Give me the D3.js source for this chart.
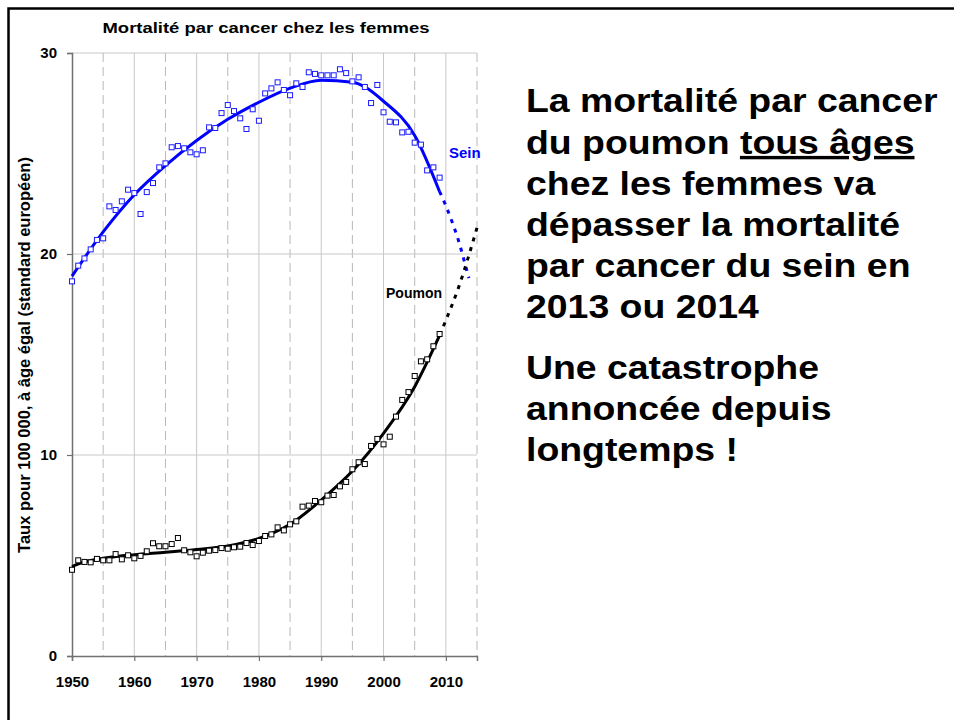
<!DOCTYPE html>
<html>
<head>
<meta charset="utf-8">
<script src="https://cdn.jsdelivr.net/npm/d3@7"></script>
<style>
  body { margin: 0; background: #fff; }
  svg { display: block; font-family: "Liberation Sans", Arial, sans-serif; }
</style>
</head>
<body>
<svg id="chart" width="954" height="720"></svg>
<script>
// données
const years = d3.range(1950, 2010);
const seinValues = [18.64, 19.42, 19.78, 20.23, 20.7, 20.78, 22.37, 22.19, 22.62, 23.2,
    23.03, 21.99, 23.08, 23.53, 24.31, 24.51, 25.31, 25.37, 25.26, 25.06,
    24.96, 25.16, 26.3, 26.27, 27.01, 27.41, 27.11, 26.75, 26.22, 27.2,
    26.63, 27.99, 28.24, 28.54, 28.16, 27.9, 28.49, 28.31, 29.04, 28.96,
    28.89, 28.89, 28.89, 29.19, 29.0, 28.59, 28.79, 28.31, 27.51, 28.41,
    27.05, 26.58, 26.55, 26.05, 26.08, 25.54, 25.44, 24.16, 24.31, 23.8];
const poumonValues = [4.29, 4.76, 4.68, 4.66, 4.83, 4.76, 4.76, 5.07, 4.81, 5.01,
    4.86, 4.98, 5.21, 5.61, 5.46, 5.46, 5.57, 5.87, 5.26, 5.16,
    4.96, 5.14, 5.24, 5.27, 5.37, 5.34, 5.41, 5.44, 5.62, 5.52,
    5.72, 5.97, 6.05, 6.40, 6.25, 6.55, 6.70, 7.43, 7.48, 7.71,
    7.65, 7.98, 8.01, 8.44, 8.66, 9.29, 9.64, 9.55, 10.45, 10.8,
    10.53, 10.91, 11.91, 12.74, 13.13, 13.93, 14.66, 14.76, 15.41, 16.02];

// courbes de tendance
const seinTrendYears = [1950, 1955, 1960, 1965, 1970, 1975, 1980, 1985, 1990, 1995, 2000, 2005, 2009];
const seinTrend = [18.9, 21.1, 22.95, 24.4, 25.65, 26.7, 27.55, 28.25, 28.65, 28.55, 27.6, 25.9, 23.1];
const seinProjYears = [2009, 2010, 2011, 2012, 2013, 2013.7];
const seinProj = [23.1, 22.4, 21.6, 20.7, 19.6, 18.8];

const poumonTrendYears = [1950, 1952, 1955, 1960, 1965, 1970, 1975, 1980, 1985, 1990, 1995, 2000, 2005, 2009];
const poumonTrend = [4.45, 4.68, 4.86, 5.04, 5.16, 5.3, 5.47, 5.85, 6.55, 7.76, 9.2, 11.08, 13.4, 15.95];
const poumonProjYears = [2009, 2010, 2012, 2015];
const poumonProj = [15.95, 16.7, 18.3, 21.3];

const xTicks = [1950, 1960, 1970, 1980, 1990, 2000, 2010];
const xMinor = [1955, 1965, 1975, 1985, 1995, 2005, 2015];
const yTicks = [0, 10, 20, 30];

const textLines = [
    {t: "La mortalité par cancer", y: 112},
    {t: "du poumon ", u: "tous âges", y: 154},
    {t: "chez les femmes va", y: 195},
    {t: "dépasser la mortalité", y: 236},
    {t: "par cancer du sein en", y: 277},
    {t: "2013 ou 2014", y: 318},
    {t: "Une catastrophe", y: 379},
    {t: "annoncée depuis", y: 420},
    {t: "longtemps !", y: 461}
];

const svg = d3.select("#chart");
const area = {left: 72, right: 477, top: 53, bottom: 656};

const scaleX = d3.scaleLinear().domain([1950, 2015]).range([area.left, area.right]);
const scaleY = d3.scaleLinear().domain([0, 30]).range([area.bottom, area.top]);

// cadre
svg.append("rect")
    .attr("x", 8.5).attr("y", 8.5)
    .attr("width", 1000).attr("height", 1000)
    .attr("fill", "none").attr("stroke", "#000").attr("stroke-width", 2.5);

// grille
svg.append("g").selectAll("line")
    .data(xMinor)
    .join("line")
    .attr("x1", d => scaleX(d)).attr("x2", d => scaleX(d))
    .attr("y1", area.top).attr("y2", area.bottom)
    .attr("stroke", "#b8b8b8").attr("stroke-width", 1)
    .attr("stroke-dasharray", "9,5");

svg.append("g").selectAll("line")
    .data(xTicks.slice(1))
    .join("line")
    .attr("x1", d => scaleX(d)).attr("x2", d => scaleX(d))
    .attr("y1", area.top).attr("y2", area.bottom)
    .attr("stroke", "#c8c8c8").attr("stroke-width", 1);

svg.append("g").selectAll("line")
    .data(yTicks.slice(1))
    .join("line")
    .attr("x1", area.left).attr("x2", area.right)
    .attr("y1", d => scaleY(d)).attr("y2", d => scaleY(d))
    .attr("stroke", "#c8c8c8").attr("stroke-width", 1);

// axes
const axisX = d3.axisBottom(scaleX).tickValues(xTicks).tickFormat(d3.format("d")).tickSize(5).tickPadding(15);
const axisY = d3.axisLeft(scaleY).tickValues(yTicks).tickSize(5).tickPadding(10);

const gx = svg.append("g").attr("transform", `translate(0, ${area.bottom})`).call(axisX);
const gy = svg.append("g").attr("transform", `translate(${area.left}, 0)`).call(axisY);
[gx, gy].forEach(g => {
    g.select(".domain").attr("stroke", "#707070").attr("stroke-width", 1.5);
    g.selectAll(".tick line").attr("stroke", "#707070").attr("stroke-width", 1.2);
    g.selectAll("text")
        .attr("fill", "#000")
        .style("font-size", "15px")
        .style("font-weight", "bold")
        .style("font-family", "'Liberation Sans', Arial, sans-serif");
});

// titre et libellés
svg.append("text")
    .attr("x", 266).attr("y", 33)
    .attr("text-anchor", "middle")
    .attr("textLength", 327).attr("lengthAdjust", "spacingAndGlyphs")
    .style("font-size", "15px").style("font-weight", "bold")
    .text("Mortalité par cancer chez les femmes");

svg.append("text")
    .attr("transform", "translate(30, 355) rotate(-90)")
    .attr("text-anchor", "middle")
    .style("font-size", "16.5px").style("font-weight", "bold")
    .text("Taux pour 100 000, à âge égal (standard européen)");

// tendances
function drawTrend(xs, ys, color, dashed) {
    const pts = xs.map((x, i) => [x, ys[i]]);
    const line = d3.line()
        .x(d => scaleX(d[0]))
        .y(d => scaleY(d[1]))
        .curve(d3.curveMonotoneX);
    svg.append("path")
        .datum(pts)
        .attr("fill", "none")
        .attr("stroke", color)
        .attr("stroke-width", 3)
        .attr("stroke-dasharray", dashed ? "4,6" : null)
        .attr("d", line);
}

drawTrend(seinTrendYears, seinTrend, "#0000ff", false);
drawTrend(seinProjYears, seinProj, "#0000ff", true);
drawTrend(poumonTrendYears, poumonTrend, "#000", false);
drawTrend(poumonProjYears, poumonProj, "#000", true);

// points
function drawSquares(values, color) {
    const s = 5;
    svg.append("g").selectAll("rect")
        .data(years.map((y, i) => [y, values[i]]))
        .join("rect")
        .attr("x", d => scaleX(d[0]) - s / 2)
        .attr("y", d => scaleY(d[1]) - s / 2)
        .attr("width", s).attr("height", s)
        .attr("fill", "#fff")
        .attr("stroke", color)
        .attr("stroke-width", 1);
}
drawSquares(seinValues, "#1a1aff");
drawSquares(poumonValues, "#000");

svg.append("text")
    .attr("x", 449).attr("y", 158)
    .style("font-size", "15px").style("font-weight", "bold")
    .attr("fill", "#0000ff")
    .text("Sein");

svg.append("text")
    .attr("x", 386).attr("y", 298)
    .style("font-size", "14px").style("font-weight", "bold")
    .text("Poumon");

// texte de droite (étiré horizontalement comme l'original)
const txt = svg.append("g").attr("transform", "translate(526, 0) scale(1.1, 1)");
textLines.forEach(l => {
    const t = txt.append("text")
        .attr("x", 0).attr("y", l.y)
        .style("font-size", "34px").style("font-weight", "bold")
        .attr("fill", "#000");
    t.append("tspan").text(l.t);
    if (l.u) {
        t.append("tspan").attr("text-decoration", "underline").text(l.u);
    }
});
</script>
</body>
</html>
